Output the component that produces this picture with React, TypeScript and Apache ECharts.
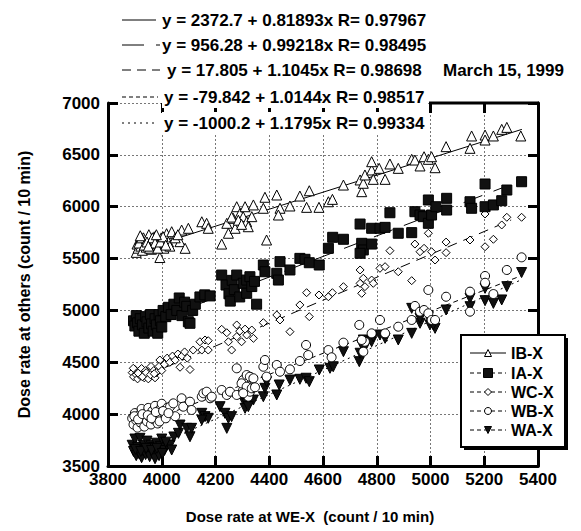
import React, { useEffect, useRef } from "react";
import * as echarts from "echarts";

const seriesNames = ["IB-X", "IA-X", "WC-X", "WB-X", "WA-X"];
const intercepts = [2372.7, 956.28, 17.805, -79.842, -1000.2];
const slopes = [0.81893, 0.99218, 1.1045, 1.0144, 1.1795];
const rValues = [0.97967, 0.98495, 0.98698, 0.98517, 0.99334];
const fitStart = [3900, 3900, 3900, 3900, 3900];
const fitEnd = [5340, 5280, 5300, 5340, 5340];
const dateLabel = "March 15, 1999";
const xTitle = "Dose rate at WE-X  (count / 10 min)";
const yTitle = "Dose rate at others (count / 10 min)";

const ibX: number[][] = [
  [3905, 5560], [3908, 5640], [3912, 5600], [3918, 5680], [3922, 5620], [3928, 5580], [3932, 5700],
  [3938, 5650], [3942, 5610], [3948, 5690], [3952, 5730], [3958, 5640], [3962, 5590], [3968, 5670],
  [3972, 5710], [3978, 5620], [3982, 5680], [3988, 5640], [3993, 5510], [3998, 5700], [4003, 5650],
  [4008, 5600], [4012, 5690], [4018, 5740], [4025, 5660], [4030, 5620], [3915, 5650], [3925, 5700],
  [3935, 5630], [3945, 5660], [3955, 5600], [3965, 5700], [3975, 5650], [3985, 5600], [3995, 5660],
  [4005, 5710], [4015, 5630], [3920, 5720], [3950, 5620], [3980, 5730], [4037, 5759], [4074, 5775],
  [4099, 5792], [4068, 5663], [4087, 5599], [4050, 5700], [4060, 5730], [4149, 5855], [4167, 5840],
  [4173, 5792], [4223, 5640], [4242, 5840], [4248, 5744], [4279, 6000], [4291, 5936], [4303, 5904],
  [4310, 6000], [4316, 5855], [4322, 5807], [4335, 5904], [4341, 6017], [4266, 5888], [4273, 5792],
  [4260, 5900], [4285, 5870], [4297, 5830], [4378, 5985], [4384, 6091], [4390, 5679], [4428, 6113],
  [4440, 5985], [4434, 5920], [4477, 6007], [4514, 6103], [4539, 5994], [4549, 6154], [4585, 5994],
  [4620, 6048], [4635, 6071], [4676, 6209], [4738, 6258], [4744, 6145], [4750, 6226], [4756, 6306],
  [4781, 6354], [4781, 6434], [4787, 6264], [4809, 6370], [4831, 6264], [4849, 6412], [4880, 6370],
  [4930, 6457], [4942, 6450], [4961, 6393], [4976, 6482], [4992, 6457], [5004, 6482], [5017, 6376],
  [5058, 6579], [5147, 6563], [5153, 6682], [5203, 6691], [5203, 6643], [5234, 6682], [5265, 6746],
  [5284, 6765], [5336, 6682],
];

const iaX: number[][] = [
  [3895, 4900], [3900, 4850], [3905, 4950], [3910, 4880], [3915, 4800], [3920, 4920], [3928, 4860],
  [3935, 4780], [3940, 4940], [3945, 4890], [3952, 4830], [3958, 4960], [3962, 4870], [3968, 4800],
  [3975, 4920], [3980, 4860], [3985, 4780], [3990, 4960], [3995, 4900], [4000, 4840], [4005, 5000],
  [4015, 4940], [4025, 5030], [4035, 4960], [4045, 5060], [4056, 5000], [4065, 5120], [4075, 4950],
  [4085, 5080], [4093, 5040], [4099, 4891], [4105, 4876], [4115, 5000], [4125, 5060], [4142, 5130],
  [4160, 5150], [4180, 5140], [4223, 5341], [4239, 5245], [4250, 5160], [4255, 5090], [4262, 5290],
  [4270, 5200], [4279, 5341], [4290, 5130], [4303, 5262], [4316, 5293], [4316, 5165], [4328, 5325],
  [4335, 5230], [4345, 5280], [4353, 5060], [4378, 5438], [4384, 5373], [4428, 5358], [4434, 5293],
  [4440, 5470], [4477, 5390], [4514, 5502], [4533, 5493], [4549, 5460], [4586, 5438], [4620, 5599],
  [4636, 5705], [4676, 5686], [4738, 5833], [4744, 5647], [4750, 5583], [4738, 5551], [4781, 5640],
  [4781, 5792], [4812, 5792], [4831, 5801], [4849, 5942], [4880, 5744], [4930, 5750], [4942, 5952],
  [4961, 5920], [4973, 5904], [4992, 5840], [4992, 6065], [5004, 5920], [5020, 6000], [5060, 6081],
  [5060, 5968], [5147, 6048], [5153, 5985], [5203, 6219], [5203, 6000], [5234, 6017], [5265, 6058],
  [5284, 6161], [5339, 6241],
];

const wcX: number[][] = [
  [3890, 4400], [3895, 4360], [3900, 4430], [3905, 4380], [3910, 4340], [3915, 4410], [3920, 4370],
  [3925, 4440], [3930, 4390], [3935, 4350], [3940, 4420], [3945, 4380], [3950, 4340], [3955, 4400],
  [3960, 4460], [3965, 4370], [3970, 4420], [3975, 4350], [3980, 4400], [3912, 4395], [3928, 4360],
  [3942, 4400], [3958, 4380], [3972, 4390], [3894, 4442], [3993, 4522], [3990, 4460], [4000, 4420],
  [4010, 4480], [4020, 4540], [4030, 4500], [4040, 4560], [4050, 4520], [4060, 4580], [4068, 4452],
  [4075, 4560], [4085, 4600], [4095, 4540], [4105, 4430], [4117, 4618], [4142, 4698], [4149, 4618],
  [4161, 4715], [4173, 4708], [4173, 4618], [4223, 4818], [4242, 4785], [4279, 4860], [4260, 4618],
  [4248, 4698], [4279, 4747], [4297, 4698], [4316, 4763], [4335, 4811], [4341, 4731], [4290, 4800],
  [4310, 4820], [4378, 4882], [4428, 4956], [4440, 4908], [4477, 4795], [4514, 5053], [4539, 5171],
  [4549, 4940], [4585, 5149], [4620, 5132], [4635, 5171], [4676, 5229], [4738, 5390], [4738, 5261],
  [4744, 5165], [4750, 5310], [4756, 5229], [4781, 5293], [4787, 5261], [4812, 5406], [4831, 5422],
  [4849, 5576], [4880, 5373], [4930, 5287], [4942, 5640], [4961, 5566], [4976, 5599], [4992, 5744],
  [5004, 5566], [5017, 5486], [5058, 5659], [5058, 5557], [5147, 5679], [5203, 5930], [5203, 5614],
  [5234, 5686], [5265, 5824], [5284, 5898], [5339, 5898],
];

const wbX: number[][] = [
  [3890, 3960], [3895, 3900], [3900, 4010], [3905, 3940], [3910, 3870], [3915, 3990], [3920, 3920],
  [3925, 4050], [3930, 3960], [3935, 3880], [3940, 4000], [3945, 3930], [3950, 4060], [3955, 3970],
  [3960, 3900], [3965, 4030], [3970, 3950], [3975, 4080], [3980, 3990], [3985, 3910], [3990, 4040],
  [3995, 3960], [4000, 4100], [4010, 4000], [4020, 4060], [4031, 4072], [4043, 4104], [4050, 3980],
  [3898, 3980], [3912, 3950], [3928, 4000], [3948, 3990], [3962, 3960], [3978, 4020], [3992, 3930],
  [4005, 4030], [4015, 3960], [4025, 4010], [4074, 4153], [4080, 4072], [4105, 4120], [4111, 4040],
  [4149, 4168], [4155, 4201], [4167, 4216], [4180, 4153], [4186, 4168], [4223, 4233], [4242, 4185],
  [4254, 4216], [4279, 4185], [4279, 4442], [4303, 4233], [4316, 4281], [4322, 4168], [4328, 4216],
  [4303, 4329], [4316, 4377], [4328, 4361], [4341, 4346], [4297, 4297], [4316, 4265], [4335, 4249],
  [4347, 4259], [4303, 4201], [4378, 4457], [4384, 4522], [4390, 4361], [4428, 4474], [4440, 4409],
  [4477, 4432], [4514, 4512], [4537, 4667], [4545, 4570], [4620, 4618], [4632, 4548], [4676, 4689],
  [4735, 4860], [4756, 4698], [4744, 4715], [4750, 4602], [4781, 4779], [4812, 4908], [4831, 4779],
  [4880, 4843], [4930, 4908], [4942, 5043], [4961, 4988], [4976, 5004], [4992, 4972], [4992, 5197],
  [5004, 4908], [5017, 4908], [5058, 5132], [5147, 5181], [5147, 4988], [5203, 5332], [5203, 5267],
  [5234, 5158], [5284, 5390], [5339, 5512],
];

const waX: number[][] = [
  [3890, 3700], [3895, 3640], [3900, 3760], [3905, 3600], [3910, 3680], [3915, 3620], [3919, 3767],
  [3925, 3580], [3930, 3650], [3935, 3700], [3940, 3610], [3945, 3740], [3950, 3660], [3955, 3590],
  [3960, 3700], [3965, 3630], [3970, 3680], [3975, 3570], [3980, 3720], [3985, 3640], [3990, 3600],
  [3995, 3690], [4000, 3760], [4010, 3650], [4020, 3700], [4031, 3702], [4037, 3654], [4045, 3780],
  [3902, 3660], [3922, 3640], [3942, 3670], [3962, 3650], [3982, 3670], [4002, 3620], [4015, 3730],
  [4062, 3815], [4068, 3895], [4093, 3863], [4105, 3782], [4111, 3863], [4149, 4008], [4161, 3976],
  [4173, 3960], [4149, 3943], [4217, 4072], [4235, 4008], [4242, 3863], [4248, 3960], [4260, 3976],
  [4303, 4136], [4316, 4104], [4328, 4120], [4341, 4136], [4310, 4056], [4322, 4072], [4378, 4168],
  [4384, 4249], [4390, 4313], [4428, 4185], [4437, 4281], [4477, 4329], [4514, 4336], [4537, 4346],
  [4549, 4313], [4586, 4426], [4626, 4442], [4638, 4457], [4676, 4602], [4735, 4506], [4738, 4587],
  [4756, 4683], [4744, 4667], [4750, 4715], [4763, 4683], [4781, 4698], [4787, 4747], [4812, 4763],
  [4831, 4731], [4880, 4715], [4930, 4779], [4961, 4876], [4998, 4860], [5017, 4827], [4930, 5020],
  [4961, 4924], [4992, 4940], [5010, 4860], [5058, 5004], [5147, 5117], [5147, 5036], [5203, 5213],
  [5203, 5094], [5234, 5068], [5265, 5101], [5284, 5229], [5339, 5365],
];

const seriesData = [ibX, iaX, wcX, wbX, waX];

const FONT = "'Liberation Sans', Arial, Helvetica, sans-serif";

const markerStyles = [
  { symbol: "triangle", size: 10, fill: "#fff", rotate: 0 },
  { symbol: "rect", size: 10, fill: "#111", rotate: 0 },
  { symbol: "diamond", size: 8, fill: "#fff", rotate: 0 },
  { symbol: "circle", size: 9, fill: "#fff", rotate: 0 },
  { symbol: "triangle", size: 10, fill: "#111", rotate: 180 },
];
const plotDash: (number[] | string)[] = ["solid", [20, 12], [10, 7], [5, 4], [2, 4]];
const keyDash: (number[] | string)[] = ["solid", [22, 12], [9, 6], [4, 3], [2, 4]];

function legendMarker(i: number, cx: number, cy: number): any {
  const s = 7;
  const stroke = { stroke: "#000", lineWidth: 1 };
  if (i === 0)
    return { type: "polygon", shape: { points: [[cx, cy - s / 2], [cx + s / 2, cy + s / 2], [cx - s / 2, cy + s / 2]] }, style: { fill: "#fff", ...stroke }, z: 102 };
  if (i === 1)
    return { type: "rect", shape: { x: cx - 4.5, y: cy - 4.5, width: 9, height: 9 }, style: { fill: "#111", ...stroke }, z: 102 };
  if (i === 2)
    return { type: "polygon", shape: { points: [[cx, cy - 3.5], [cx + 3.5, cy], [cx, cy + 3.5], [cx - 3.5, cy]] }, style: { fill: "#fff", ...stroke }, z: 102 };
  if (i === 3)
    return { type: "circle", shape: { cx, cy, r: 3.5 }, style: { fill: "#fff", ...stroke }, z: 102 };
  return { type: "polygon", shape: { points: [[cx - s / 2, cy - s / 2], [cx + s / 2, cy - s / 2], [cx, cy + s / 2]] }, style: { fill: "#111", ...stroke }, z: 102 };
}

export default function App() {
  const ref = useRef<HTMLDivElement>(null);
  useEffect(() => {
    if (!ref.current) return;
    const chart = echarts.init(ref.current, null, { renderer: "svg" });

    const fitSeries = seriesNames.map((n, i) => ({
      name: n + " fit",
      type: "line",
      data: [
        [fitStart[i], intercepts[i] + slopes[i] * fitStart[i]],
        [fitEnd[i], intercepts[i] + slopes[i] * fitEnd[i]],
      ],
      showSymbol: false,
      symbol: "none",
      lineStyle: { color: "#000", width: 1, type: plotDash[i] },
      z: 1,
      silent: true,
    }));

    const scatterSeries = seriesNames.map((n, i) => ({
      name: n,
      type: "scatter",
      data: seriesData[i],
      symbol: markerStyles[i].symbol,
      symbolSize: markerStyles[i].size,
      symbolRotate: markerStyles[i].rotate,
      itemStyle: { color: markerStyles[i].fill, borderColor: "#000", borderWidth: 1, opacity: 1 },
      z: 2 + (4 - i),
    }));

    const eqY = [20, 45, 70, 97, 123];
    const eqX = [162, 162, 167, 162, 162];
    const keyEnd = [156, 160, 160, 158, 158];
    const graphics: any[] = [];
    seriesNames.forEach((_, i) => {
      const a = intercepts[i];
      graphics.push({
        type: "line",
        shape: { x1: 122, y1: eqY[i], x2: keyEnd[i], y2: eqY[i] },
        style: { stroke: "#000", lineWidth: 1, lineDash: keyDash[i] === "solid" ? null : keyDash[i] },
        z: 101,
      });
      graphics.push({
        type: "text",
        x: eqX[i],
        y: eqY[i],
        style: {
          text: `y = ${a} + ${slopes[i]}x R= ${rValues[i]}`,
          fontFamily: FONT,
          fontWeight: "bold",
          fontSize: 17,
          fill: "#000",
          textVerticalAlign: "middle",
          verticalAlign: "middle",
          backgroundColor: i >= 3 ? "#fff" : undefined,
          padding: i >= 3 ? [2, 2, 3, 2] : 0,
        },
        z: 100,
      });
    });
    graphics.push({
      type: "text",
      x: 443,
      y: 70,
      style: {
        text: dateLabel,
        fontFamily: FONT,
        fontWeight: "bold",
        fontSize: 17,
        fill: "#000",
        verticalAlign: "middle",
        textVerticalAlign: "middle",
      },
      z: 100,
    });
    graphics.push({
      type: "line",
      shape: { x1: 429, y1: 103, x2: 539, y2: 103 },
      style: { stroke: "#000", lineWidth: 3 },
      z: 100,
    });
    graphics.push({ type: "rect", shape: { x: 464, y: 338, width: 104, height: 112 }, style: { fill: "#000" }, z: 100 });
    graphics.push({ type: "rect", shape: { x: 461, y: 335, width: 104, height: 112 }, style: { fill: "#fff", stroke: "#000", lineWidth: 2 }, z: 101 });
    const rowY = [353, 373, 392, 411, 430];
    seriesNames.forEach((n, i) => {
      graphics.push({
        type: "line",
        shape: { x1: 470, y1: rowY[i], x2: 506, y2: rowY[i] },
        style: { stroke: "#000", lineWidth: 1, lineDash: keyDash[i] === "solid" ? null : [4, 3] },
        z: 101,
      });
      graphics.push(legendMarker(i, 488, rowY[i]));
      graphics.push({
        type: "text",
        x: 511,
        y: rowY[i],
        style: {
          text: n,
          fontFamily: FONT,
          fontWeight: "bold",
          fontSize: 16,
          fill: "#000",
          verticalAlign: "middle",
          textVerticalAlign: "middle",
        },
        z: 102,
      });
    });

    const tickStyle = { show: true, inside: true, length: 10, lineStyle: { color: "#000", width: 3 } };
    const labelStyle = { fontFamily: FONT, fontWeight: "bold", fontSize: 17, color: "#000", formatter: (v: number) => String(v) };

    chart.setOption({
      animation: false,
      backgroundColor: "#fff",
      grid: { left: 108, top: 103, width: 430, height: 363, containLabel: false },
      xAxis: [
        {
          type: "value",
          min: 3800,
          max: 5400,
          interval: 200,
          position: "bottom",
          axisLine: { show: true, lineStyle: { color: "#000", width: 3 } },
          axisTick: tickStyle,
          axisLabel: { ...labelStyle, margin: 5 },
          splitLine: { show: true, lineStyle: { color: "#777", width: 1, type: [2, 2] } },
          name: xTitle,
          nameLocation: "middle",
          nameGap: 43,
          nameTextStyle: { fontFamily: FONT, fontWeight: "bold", fontSize: 15, color: "#000", padding: [0, 26, 0, 0] },
        },
        {
          type: "value",
          min: 3800,
          max: 5400,
          interval: 200,
          position: "top",
          axisLine: { show: false },
          axisTick: tickStyle,
          axisLabel: { show: false },
          splitLine: { show: false },
        },
      ],
      yAxis: [
        {
          type: "value",
          min: 3500,
          max: 7000,
          interval: 500,
          position: "left",
          axisLine: { show: true, lineStyle: { color: "#000", width: 3 } },
          axisTick: tickStyle,
          axisLabel: { ...labelStyle, margin: 8 },
          splitLine: { show: true, lineStyle: { color: "#777", width: 1, type: [2, 2] } },
          name: yTitle,
          nameLocation: "middle",
          nameGap: 76,
          nameTextStyle: { fontFamily: FONT, fontWeight: "bold", fontSize: 16, color: "#000" },
        },
        {
          type: "value",
          min: 3500,
          max: 7000,
          interval: 500,
          position: "right",
          axisLine: { show: true, lineStyle: { color: "#000", width: 3 } },
          axisTick: tickStyle,
          axisLabel: { show: false },
          splitLine: { show: false },
        },
      ],
      series: [...fitSeries, ...scatterSeries],
      graphic: graphics,
    });
    return () => chart.dispose();
  }, []);
  return <div ref={ref} style={{ position: "fixed", left: 0, top: 0, width: 581, height: 531 }} />;
}
